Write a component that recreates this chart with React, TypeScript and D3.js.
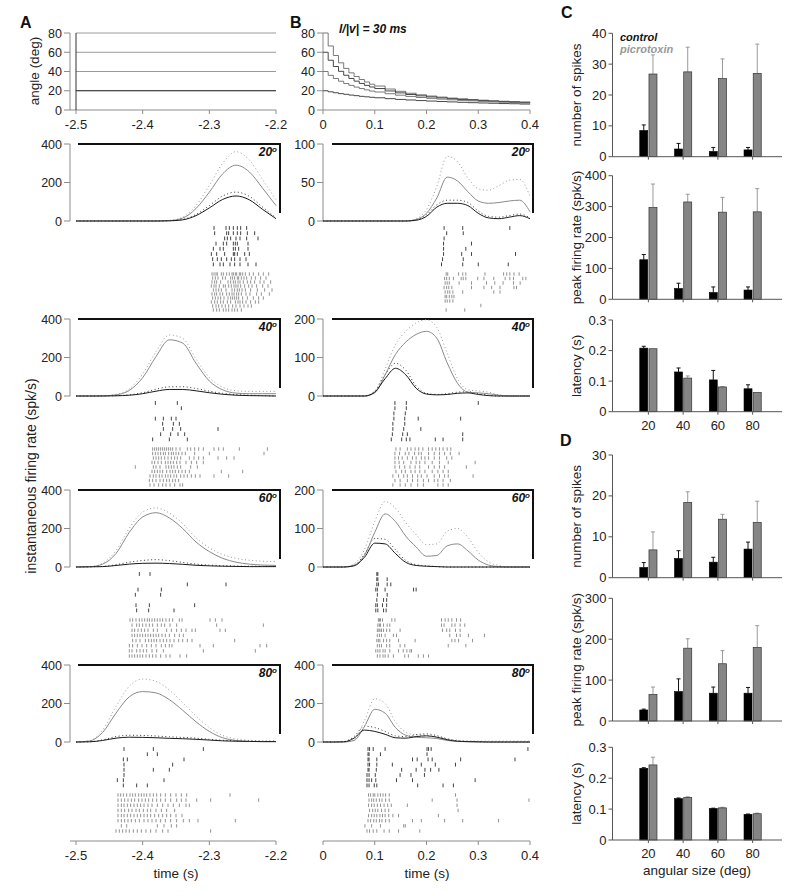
import React from 'react';
import * as d3 from 'd3';

const FONT = "'Liberation Sans', Arial, Helvetica, sans-serif";
const INK = '#222';
const AXIS = '#8c8c8c';
const PIC = '#8a8a8a';
const PIC_TICK = '#6e6e6e';

// ---------- stimulus (top row) ----------
const angleLevels = [20, 40, 60, 80];
const stimTimesB = [0, 0.01, 0.02, 0.03, 0.04, 0.05, 0.06, 0.07, 0.08, 0.09, 0.1, 0.12, 0.14, 0.16, 0.18, 0.2, 0.22, 0.24, 0.26, 0.28, 0.3, 0.32, 0.34, 0.36, 0.38, 0.4];
const stimB80 = [80, 66.5, 56.6, 49.0, 43.2, 38.6, 34.8, 31.7, 29.1, 26.8, 24.9, 21.8, 19.4, 17.4, 15.8, 14.5, 13.4, 12.4, 11.6, 10.9, 10.2, 9.6, 9.1, 8.7, 8.3, 7.9];
const stimB60 = [60, 51.7, 45.2, 40.2, 36.1, 32.8, 30.0, 27.6, 25.6, 23.9, 22.3, 19.8, 17.8, 16.1, 14.7, 13.6, 12.6, 11.7, 11.0, 10.3, 9.7, 9.2, 8.7, 8.3, 7.9, 7.6];
const stimB40 = [40, 36.0, 32.7, 29.9, 27.5, 25.6, 23.8, 22.3, 20.9, 19.7, 18.7, 16.9, 15.4, 14.1, 13.0, 12.1, 11.3, 10.6, 10.0, 9.5, 9.0, 8.5, 8.1, 7.8, 7.4, 7.1];
const stimB20 = [20, 18.9, 17.9, 17.0, 16.3, 15.5, 14.9, 14.2, 13.7, 13.2, 12.7, 11.8, 11.0, 10.4, 9.8, 9.3, 8.8, 8.4, 8.0, 7.6, 7.3, 7.0, 6.7, 6.5, 6.2, 6.0];

// ---------- firing rates ----------
const timesA = [-2.5, -2.48, -2.46, -2.44, -2.42, -2.4, -2.38, -2.36, -2.34, -2.32, -2.3, -2.28, -2.26, -2.24, -2.22, -2.2];
const timesB = [0, 0.02, 0.04, 0.06, 0.08, 0.1, 0.12, 0.14, 0.16, 0.18, 0.2, 0.22, 0.24, 0.26, 0.28, 0.3, 0.32, 0.34, 0.36, 0.38, 0.4];

const rateA20ctrl = [0, 0, 0, 0, 0, 0, 0, 1, 6, 28, 68, 112, 130, 110, 60, 12];
const rateA20ctrlSE = [0, 0, 0, 0, 0, 0, 0, 0, 2, 6, 12, 18, 20, 18, 12, 5];
const rateA20pic = [0, 0, 0, 0, 0, 0, 0, 2, 15, 65, 150, 245, 290, 255, 170, 80];
const rateA20picSE = [0, 0, 0, 0, 0, 0, 0, 1, 5, 15, 35, 55, 70, 62, 45, 30];

const rateA40ctrl = [0, 0, 0, 1, 4, 12, 25, 34, 34, 27, 17, 9, 4, 2, 1, 0];
const rateA40ctrlSE = [0, 0, 0, 1, 2, 5, 10, 14, 14, 12, 8, 5, 3, 2, 1, 0];
const rateA40pic = [0, 0, 1, 6, 29, 95, 205, 292, 275, 170, 78, 32, 15, 12, 12, 12];
const rateA40picSE = [0, 0, 0, 2, 8, 20, 25, 25, 25, 22, 18, 14, 12, 12, 12, 12];

const rateA60ctrl = [0, 1, 2, 8, 15, 19, 20, 18, 14, 9, 6, 4, 3, 2, 2, 2];
const rateA60ctrlSE = [0, 0, 1, 4, 10, 15, 18, 15, 10, 6, 4, 3, 2, 2, 2, 2];
const rateA60pic = [0, 1, 15, 70, 180, 260, 282, 255, 200, 130, 80, 45, 25, 15, 10, 8];
const rateA60picSE = [0, 0, 5, 15, 22, 25, 25, 25, 25, 22, 20, 20, 20, 20, 20, 20];

const rateA80ctrl = [0, 1, 8, 20, 25, 24, 22, 19, 17, 14, 10, 6, 4, 3, 2, 2];
const rateA80ctrlSE = [0, 0, 3, 8, 10, 10, 9, 8, 7, 6, 4, 3, 2, 2, 1, 1];
const rateA80pic = [0, 5, 50, 150, 235, 262, 255, 220, 165, 105, 55, 22, 8, 3, 2, 2];
const rateA80picSE = [0, 2, 12, 35, 55, 65, 60, 50, 40, 30, 20, 12, 8, 6, 5, 5];

const rateB20ctrl = [0, 0, 0, 0, 0, 0, 0, 0, 0, 1, 6, 18, 23, 23, 20, 10, 4, 3, 5, 7, 3];
const rateB20ctrlSE = [0, 0, 0, 0, 0, 0, 0, 0, 0, 0, 2, 3, 4, 4, 4, 3, 2, 2, 2, 2, 1];
const rateB20pic = [0, 0, 0, 0, 0, 0, 0, 0, 0, 2, 10, 30, 57, 52, 38, 26, 23, 24, 26, 27, 12];
const rateB20picSE = [0, 0, 0, 0, 0, 0, 0, 0, 0, 1, 5, 15, 27, 25, 18, 16, 17, 22, 27, 27, 20];

const rateB40ctrl = [0, 0, 0, 0, 0, 10, 45, 72, 55, 20, 5, 3, 4, 7, 8, 4, 1, 0, 0, 0, 0];
const rateB40ctrlSE = [0, 0, 0, 0, 0, 3, 10, 13, 12, 6, 2, 1, 2, 3, 3, 2, 1, 0, 0, 0, 0];
const rateB40pic = [0, 0, 0, 0, 0, 8, 55, 108, 140, 160, 168, 150, 86, 33, 10, 8, 6, 2, 0, 0, 0];
const rateB40picSE = [0, 0, 0, 0, 0, 3, 15, 25, 28, 30, 30, 28, 25, 12, 6, 5, 4, 1, 0, 0, 0];

const rateB60ctrl = [0, 0, 0, 3, 25, 62, 60, 35, 12, 4, 2, 1, 0, 0, 0, 0, 0, 0, 0, 0, 0];
const rateB60ctrlSE = [0, 0, 0, 1, 8, 12, 12, 10, 5, 2, 1, 0, 0, 0, 0, 0, 0, 0, 0, 0, 0];
const rateB60pic = [0, 0, 0, 5, 30, 90, 138, 118, 80, 52, 28, 30, 55, 60, 42, 18, 5, 1, 0, 0, 0];
const rateB60picSE = [0, 0, 0, 3, 15, 28, 32, 35, 35, 32, 30, 30, 38, 40, 35, 20, 8, 3, 0, 0, 0];

const rateB80ctrl = [0, 0, 1, 20, 62, 55, 40, 22, 20, 28, 32, 25, 12, 4, 2, 1, 0, 0, 0, 0, 0];
const rateB80ctrlSE = [0, 0, 1, 8, 20, 20, 15, 10, 8, 10, 10, 8, 5, 2, 1, 1, 0, 0, 0, 0, 0];
const rateB80pic = [0, 0, 0, 8, 80, 170, 150, 75, 35, 25, 22, 18, 8, 3, 1, 0, 0, 0, 0, 0, 0];
const rateB80picSE = [0, 0, 0, 4, 30, 55, 50, 30, 15, 12, 12, 10, 8, 6, 5, 5, 5, 5, 5, 5, 5];

// ---------- rasters (spike times in ms, one string per trial) ----------
const rasterA20ctrl = [
  '-2293 -2275 -2270 -2264 -2258 -2253 -2244',
  '-2292 -2274 -2271 -2264 -2258 -2253 -2243 -2232',
  '-2277 -2273 -2268 -2260 -2254 -2244 -2227',
  '-2290 -2279 -2274 -2264 -2261 -2258 -2242',
  '-2294 -2284 -2279 -2264 -2261 -2256 -2242',
  '-2297 -2289 -2277 -2264 -2262 -2258 -2247 -2240',
  '-2295 -2288 -2282 -2274 -2267 -2262 -2254 -2245',
  '-2294 -2284 -2279 -2269 -2262 -2254 -2242 -2230',
];
const rasterA20pic = [
  '-2296 -2293 -2290 -2288 -2282 -2279 -2274 -2270 -2266 -2264 -2261 -2259 -2255 -2253 -2250 -2246 -2240 -2234 -2226 -2219 -2211',
  '-2295 -2291 -2287 -2280 -2276 -2268 -2265 -2262 -2258 -2256 -2252 -2248 -2244 -2237 -2231 -2223 -2215',
  '-2296 -2292 -2289 -2283 -2272 -2268 -2264 -2261 -2257 -2254 -2249 -2243 -2238 -2232 -2224 -2218 -2208',
  '-2297 -2293 -2290 -2285 -2279 -2276 -2271 -2267 -2263 -2260 -2257 -2253 -2247 -2241 -2236 -2229 -2220 -2212',
  '-2294 -2290 -2286 -2282 -2275 -2266 -2262 -2258 -2255 -2251 -2246 -2238 -2228 -2217 -2206',
  '-2296 -2292 -2289 -2284 -2280 -2274 -2270 -2266 -2263 -2259 -2256 -2252 -2245 -2239 -2229 -2222 -2210',
  '-2295 -2291 -2287 -2283 -2278 -2272 -2268 -2265 -2262 -2259 -2256 -2250 -2243 -2234 -2226 -2219',
  '-2297 -2292 -2288 -2283 -2279 -2273 -2268 -2261 -2257 -2254 -2250 -2245 -2238 -2231 -2226',
  '-2295 -2290 -2286 -2281 -2276 -2271 -2265 -2260 -2254 -2248 -2242 -2237',
  '-2294 -2289 -2285 -2279 -2275 -2271 -2266 -2262 -2258 -2252',
];
const rasterA40ctrl = [
  '-2381 -2348',
  '-2342',
  '',
  '-2381 -2369 -2357 -2350',
  '-2370 -2354 -2345',
  '-2369 -2355 -2343 -2287',
  '-2373 -2358 -2347 -2337',
  '-2385 -2360 -2333',
];
const rasterA40pic = [
  '-2385 -2382 -2379 -2376 -2373 -2370 -2367 -2364 -2361 -2358 -2355 -2350 -2344 -2333 -2328 -2322 -2316 -2309 -2293 -2286 -2279 -2255 -2213',
  '-2385 -2381 -2377 -2373 -2369 -2366 -2361 -2357 -2354 -2350 -2346 -2341 -2336 -2322 -2300 -2218',
  '-2384 -2380 -2376 -2372 -2367 -2362 -2357 -2352 -2348 -2343 -2330 -2323 -2316 -2309 -2287 -2274 -2263',
  '-2386 -2382 -2377 -2372 -2366 -2362 -2358 -2354 -2349 -2344 -2335 -2327 -2319 -2309',
  '-2411 -2384 -2380 -2374 -2365 -2361 -2357 -2353 -2348 -2343 -2328 -2318',
  '-2386 -2382 -2378 -2374 -2370 -2364 -2359 -2355 -2351 -2346 -2341 -2336 -2330 -2282 -2250',
  '-2389 -2384 -2380 -2375 -2371 -2366 -2362 -2358 -2353 -2349 -2343 -2338 -2333 -2327 -2321 -2314 -2293 -2271',
  '-2390 -2385 -2380 -2374 -2369 -2364 -2360 -2355 -2351 -2346',
  '-2389 -2383 -2376 -2370 -2365 -2359 -2352 -2344 -2340',
];
const rasterA60ctrl = [
  '-2405 -2389',
  '',
  '-2333 -2275',
  '-2407 -2372',
  '-2411 -2373',
  '',
  '-2410 -2390 -2322',
  '-2409 -2391 -2353',
];
const rasterA60pic = [
  '-2419 -2415 -2410 -2405 -2401 -2397 -2393 -2390 -2386 -2382 -2378 -2374 -2370 -2365 -2360 -2355 -2345 -2341 -2299 -2291 -2281',
  '-2416 -2409 -2405 -2400 -2395 -2390 -2385 -2378 -2372 -2367 -2359 -2349 -2289 -2219',
  '-2416 -2412 -2407 -2402 -2397 -2392 -2384 -2378 -2364 -2357 -2349 -2342 -2335 -2326 -2321 -2284 -2276',
  '-2416 -2412 -2408 -2404 -2400 -2396 -2392 -2388 -2384 -2380 -2376 -2371 -2366 -2360 -2352 -2345 -2339',
  '-2415 -2410 -2404 -2396 -2391 -2387 -2383 -2379 -2374 -2369 -2364 -2359 -2353 -2346 -2340 -2333 -2326 -2262',
  '-2420 -2415 -2408 -2401 -2394 -2387 -2380 -2372 -2366 -2360 -2356 -2314 -2294 -2224 -2214',
  '-2420 -2416 -2409 -2404 -2399 -2394 -2386 -2379 -2369 -2309 -2231',
  '-2420 -2416 -2412 -2408 -2404 -2400 -2395 -2390 -2385 -2380 -2373 -2365 -2359 -2344 -2334',
];
const rasterA80ctrl = [
  '-2428 -2384 -2309',
  '-2393 -2378',
  '-2429 -2423 -2338',
  '-2428 -2355',
  '-2428 -2384 -2360',
  '-2428',
  '-2438 -2429 -2368',
  '-2429 -2409 -2393',
];
const rasterA80pic = [
  '-2437 -2433 -2429 -2424 -2419 -2415 -2411 -2406 -2402 -2398 -2394 -2389 -2384 -2379 -2373 -2366 -2358 -2350 -2342 -2334 -2269',
  '-2437 -2432 -2427 -2422 -2417 -2412 -2406 -2401 -2396 -2391 -2385 -2379 -2373 -2366 -2358 -2349 -2342 -2335 -2319 -2298 -2226',
  '-2437 -2432 -2428 -2423 -2418 -2413 -2408 -2403 -2398 -2392 -2386 -2378 -2370 -2362 -2354 -2345 -2335 -2330',
  '-2437 -2432 -2427 -2421 -2416 -2410 -2405 -2399 -2393 -2388 -2380 -2372 -2364 -2352',
  '-2437 -2432 -2428 -2423 -2418 -2413 -2408 -2403 -2398 -2393 -2388 -2382 -2376 -2370 -2364 -2358 -2350 -2341',
  '-2437 -2432 -2427 -2422 -2417 -2411 -2405 -2398 -2392 -2386 -2380 -2373 -2366 -2358 -2349 -2339 -2330 -2317 -2261',
  '-2432 -2424 -2378 -2368 -2357 -2349',
  '-2440 -2435 -2430 -2425 -2420 -2414 -2408 -2402 -2395 -2388 -2380 -2370 -2362 -2298',
];
const rasterB20ctrl = [
  '234 270 361',
  '239 271',
  '234',
  '233 287',
  '233 276',
  '233 268 287 372',
  '231 271',
  '229 270 300 358',
];
const rasterB20pic = [
  '238 241 262 270 276 313 349 355 361 369 379',
  '235 239 244 252 267 271 276 299 311 330 352 361 368 386 392',
  '236 240 244 263 287 316 332 348 368 381',
  '234 239 243 249 287 311 326 342 369 374',
  '236 241 245 251 270 330 342',
  '236 239 244 249 253',
  '236 240 245 251',
  '305',
  '238 274',
];
const rasterB40ctrl = [
  '139 161 300',
  '139 161',
  '137 159',
  '137 158 184 266',
  '135 158',
  '135 156 189',
  '134 154 163 270',
  '132 152 161 168 217 232 270',
];
const rasterB40pic = [
  '141 149 163 170 178 185 193 204 211 218 225 232 240 247',
  '139 148 159 166 177 185 190 204 215 225 235 246 263',
  '139 146 153 163 173 180 190 197 204 215 225 239 249',
  '139 147 156 170 180 187 197 211 225 242 294',
  '139 148 158 168 178 187 204 215 225 235 277',
  '141 152 159 170 178 187 197 211 222 232 242',
  '135 146 156 163 173 183 190 201 215 225 235 242 290',
  '139 149 163 173 183 194 204 215 222 232 246',
  '135 149 159 170 183 194 222 232 242',
];
const rasterB60ctrl = [
  '104 106',
  '104 106 124',
  '104 107 124 131',
  '102 105 120 175 180',
  '105 124',
  '104 117 123',
  '102 105 115 123',
  '102 106 117 122',
];
const rasterB60pic = [
  '107 109 111 115 133 139 229 236 242 249 258 266',
  '106 109 111 117 124 129 229 234 249 255 265 274',
  '105 108 110 113 117 123 129 149 231 239 245 256 265',
  '105 109 113 120 136 142 245 258 265 281 312',
  '104 107 110 117 123 129 146 178 249 255 262 289',
  '105 109 113 123 129 149 158 242 276',
  '102 106 110 116 120 129 146 155 162 168 171',
  '105 110 116 120 126 136 158 165 184 194 204',
];
const rasterB80ctrl = [
  '87 90 97 120 201 204 209 396',
  '87 89 111 201',
  '87 89 104 173 182 203 211 266 371',
  '87 90 104 134 190 217 256',
  '87 89 103 152 180 197 208 224',
  '85 89 101 149 170 196',
  '85 89 94 102 142 173 294',
  '85 89 99 104 183 232 252',
];
const rasterB80pic = [
  '88 92 97 100 106 111 116 121 128 256',
  '89 94 98 103 109 114 121 128 211 259 398',
  '88 94 99 105 111 118 125 132 163 259',
  '90 96 101 106 113 120 127 261',
  '88 94 99 104 110 115 120 127 135 146 223',
  '87 92 98 103 109 114 121 128 173 190 235 270 339',
  '81 94 111 156 159',
  '85 90 97 104 118 128 146 187',
];

// ---------- summary bars (C, D) ----------
const sizes = ['20', '40', '60', '80'];
const cSpikesCtrl = [8.5, 2.5, 1.7, 2.2];
const cSpikesCtrlSE = [1.8, 1.8, 1.3, 0.8];
const cSpikesPic = [26.8, 27.5, 25.3, 27.0];
const cSpikesPicSE = [6.2, 8.0, 6.4, 9.5];
const cRateCtrl = [128, 35, 22, 30];
const cRateCtrlSE = [17, 17, 18, 10];
const cRatePic = [297, 315, 282, 283];
const cRatePicSE = [76, 25, 48, 75];
const cLatCtrl = [0.208, 0.13, 0.104, 0.075];
const cLatCtrlSE = [0.006, 0.013, 0.031, 0.013];
const cLatPic = [0.206, 0.11, 0.081, 0.063];
const cLatPicSE = [0, 0.007, 0.001, 0];
const dSpikesCtrl = [2.5, 4.7, 3.8, 7.0];
const dSpikesCtrlSE = [1.2, 1.9, 1.2, 1.7];
const dSpikesPic = [6.8, 18.4, 14.3, 13.5];
const dSpikesPicSE = [4.4, 2.6, 1.2, 5.2];
const dRateCtrl = [27, 72, 68, 68];
const dRateCtrlSE = [2, 31, 15, 14];
const dRatePic = [65, 178, 140, 180];
const dRatePicSE = [18, 23, 32, 53];
const dLatCtrl = [0.232, 0.134, 0.102, 0.083];
const dLatCtrlSE = [0.002, 0.002, 0.001, 0.001];
const dLatPic = [0.243, 0.138, 0.104, 0.085];
const dLatPicSE = [0.025, 0.002, 0.002, 0.002];

const xA = d3.scaleLinear().domain([-2.5, -2.2]).range([76, 276]);
const xB = d3.scaleLinear().domain([0, 0.4]).range([323, 530]);
const zeroYs = [221, 396, 567, 742];
const PH = 77;

const parseRow = (s: string) => s.split(' ').filter(Boolean).map(v => +v / 1000);

function YAxis({ x, y, ticks, fmt, color = AXIS, len = 6, size = 12.5 }: any) {
  const [r0, r1] = y.range();
  return (
    <g>
      <line x1={x} x2={x} y1={r0} y2={r1} stroke={color} />
      {ticks.map((t: number) => (
        <g key={t}>
          <line x1={x - len} x2={x} y1={y(t)} y2={y(t)} stroke={color} />
          <text x={x - len - 2} y={y(t) + 4.5} textAnchor="end" fontSize={size} fill={INK}>{fmt ? fmt(t) : t}</text>
        </g>
      ))}
    </g>
  );
}

function XAxis({ x, y, ticks, x0, fmt }: any) {
  const r = x.range();
  return (
    <g>
      <line x1={x0} x2={r[1]} y1={y} y2={y} stroke={AXIS} />
      {ticks.map((t: number) => (
        <g key={t}>
          <line x1={x(t)} x2={x(t)} y1={y} y2={y + 4} stroke={AXIS} />
          <text x={x(t)} y={y + 19} textAnchor="middle" fontSize={13} fill={INK}>{fmt(t)}</text>
        </g>
      ))}
    </g>
  );
}

function RatePanel({ xs, axisX, frame, times, zeroY, yMax, yTicks, ctrl, ctrlSE, pic, picSE, rasterC, rasterP, deg }: any) {
  const y = d3.scaleLinear().domain([0, yMax]).range([zeroY, zeroY - PH]);
  const mk = (vals: number[]) =>
    d3.line<number>().x((_, i) => xs(times[i])).y(v => y(v)).curve(d3.curveMonotoneX)(vals) || '';
  const hi = (m: number[], s: number[]) => m.map((v, i) => v + s[i]);
  const cStart = zeroY + 7;
  const pStart = zeroY + 53;
  const pStep = 36 / (rasterP.length - 1);
  const top = zeroY - PH;
  return (
    <g>
      <YAxis x={axisX} y={y} ticks={yTicks} />
      <path d={`M${frame[0]},${top}H${frame[1]}V${zeroY - 8}`} fill="none" stroke="#111" strokeWidth={2} />
      <text x={frame[1] - 3} y={top + 12} textAnchor="end" fontSize={12} fontWeight="bold" fontStyle="italic" fill="#111">
        {deg}<tspan fontSize={8} dy={-4}>o</tspan>
      </text>
      {/* mean + SE, dotted */}
      <path d={mk(hi(pic, picSE))} fill="none" stroke="#9a9a9a" strokeWidth={1} strokeDasharray="1 2.6" />
      <path d={mk(hi(ctrl, ctrlSE))} fill="none" stroke="#333" strokeWidth={1} strokeDasharray="1 2.6" />
      <path d={mk(pic)} fill="none" stroke={PIC} strokeWidth={1} />
      <path d={mk(ctrl)} fill="none" stroke="#1a1a1a" strokeWidth={1} />
      {rasterC.map((row: string, i: number) =>
        parseRow(row).map((t, j) => (
          <line key={`c${i}-${j}`} x1={xs(t)} x2={xs(t)} y1={cStart + i * 5.2 - 1.9} y2={cStart + i * 5.2 + 1.9} stroke="#111" strokeWidth={0.8} />
        ))
      )}
      {rasterP.map((row: string, i: number) =>
        parseRow(row).map((t, j) => (
          <line key={`p${i}-${j}`} x1={xs(t)} x2={xs(t)} y1={pStart + i * pStep - 1.7} y2={pStart + i * pStep + 1.7} stroke={PIC_TICK} strokeWidth={0.75} />
        ))
      )}
    </g>
  );
}

function BarPanel({ top, bottom, yMax, ticks, fmt, ctrl, ctrlSE, pic, picSE, ylabel, cats }: any) {
  const y = d3.scaleLinear().domain([0, yMax]).range([bottom, top]);
  const x = d3.scaleBand().domain(sizes).range([631, 770]);
  const c = (s: string) => (x(s) as number) + x.bandwidth() / 2;
  const bw = 8;
  const err = (cx: number, v: number, se: number, col: string) =>
    se > 0 ? (
      <g>
        <line x1={cx} x2={cx} y1={y(v)} y2={y(v + se)} stroke={col} />
        <line x1={cx - 2} x2={cx + 2} y1={y(v + se)} y2={y(v + se)} stroke={col} />
      </g>
    ) : null;
  return (
    <g>
      <text transform={`translate(581,${(top + bottom) / 2}) rotate(-90)`} textAnchor="middle" fontSize={13.5} fill={INK}>{ylabel}</text>
      {sizes.map((s, i) => (
        <g key={s}>
          {err(c(s) - 0.6 - bw / 2, ctrl[i], ctrlSE[i], '#111')}
          {err(c(s) + 0.6 + bw / 2, pic[i], picSE[i], '#999')}
          <rect x={c(s) - 0.6 - bw} y={y(ctrl[i])} width={bw} height={bottom - y(ctrl[i])} fill="#000" stroke="#000" strokeWidth={0.6} />
          <rect x={c(s) + 0.6} y={y(pic[i])} width={bw} height={bottom - y(pic[i])} fill="#858585" stroke="#333" strokeWidth={0.7} />
          <line x1={c(s)} x2={c(s)} y1={bottom} y2={bottom + 3} stroke="#555" />
          {cats && <text x={c(s)} y={bottom + 18} textAnchor="middle" fontSize={13} fill={INK}>{s}</text>}
        </g>
      ))}
      <line x1={612.5} x2={782} y1={bottom} y2={bottom} stroke="#555" />
      <YAxis x={612.5} y={y} ticks={ticks} fmt={fmt} color="#555" len={4} size={13} />
    </g>
  );
}

export default function App() {
  const yStim = d3.scaleLinear().domain([0, 80]).range([110, 33]);
  const stimLine = d3.line<number>().x((_, i) => xB(stimTimesB[i])).y(v => yStim(v)).curve(d3.curveStepAfter);
  const fmtA = (t: number) => d3.format('.1f')(t).replace('−', '-');
  const fmtB = (t: number) => (t === 0 ? '0' : d3.format('.1f')(t));
  const fmtLat = (t: number) => (t === 0 ? '0' : d3.format('.1f')(t));

  const panelsA = [
    [rateA20ctrl, rateA20ctrlSE, rateA20pic, rateA20picSE, rasterA20ctrl, rasterA20pic],
    [rateA40ctrl, rateA40ctrlSE, rateA40pic, rateA40picSE, rasterA40ctrl, rasterA40pic],
    [rateA60ctrl, rateA60ctrlSE, rateA60pic, rateA60picSE, rasterA60ctrl, rasterA60pic],
    [rateA80ctrl, rateA80ctrlSE, rateA80pic, rateA80picSE, rasterA80ctrl, rasterA80pic],
  ];
  const panelsB = [
    [rateB20ctrl, rateB20ctrlSE, rateB20pic, rateB20picSE, rasterB20ctrl, rasterB20pic],
    [rateB40ctrl, rateB40ctrlSE, rateB40pic, rateB40picSE, rasterB40ctrl, rasterB40pic],
    [rateB60ctrl, rateB60ctrlSE, rateB60pic, rateB60picSE, rasterB60ctrl, rasterB60pic],
    [rateB80ctrl, rateB80ctrlSE, rateB80pic, rateB80picSE, rasterB80ctrl, rasterB80pic],
  ];
  const bMax = [100, 200, 200, 400];
  const bTicks = [[0, 50, 100], [0, 100, 200], [0, 100, 200], [0, 200, 400]];

  return (
    <svg width={800} height={892} style={{ position: 'absolute', left: 0, top: 0, background: '#fff' }} fontFamily={FONT}>
      <rect width={800} height={892} fill="#fff" />
      {/* panel letters */}
      <text x={20} y={28} fontSize={16} fontWeight="bold" fill="#111">A</text>
      <text x={290} y={28} fontSize={16} fontWeight="bold" fill="#111">B</text>
      <text x={561} y={18} fontSize={16} fontWeight="bold" fill="#111">C</text>
      <text x={560} y={446} fontSize={16} fontWeight="bold" fill="#111">D</text>

      {/* A stimulus */}
      <text transform="translate(39,71) rotate(-90)" textAnchor="middle" fontSize={13.5} fill={INK}>angle (deg)</text>
      <YAxis x={70} y={yStim} ticks={[0, 20, 40, 60, 80]} />
      <XAxis x={xA} y={110} x0={70} ticks={[-2.5, -2.4, -2.3, -2.2]} fmt={fmtA} />
      {angleLevels.map(a => (
        <line key={a} x1={xA(-2.5)} x2={xA(-2.2)} y1={yStim(a)} y2={yStim(a)} stroke={a === 20 ? '#111' : '#9a9a9a'} strokeWidth={1} />
      ))}
      <line x1={xA(-2.5)} x2={xA(-2.5)} y1={yStim(0)} y2={yStim(80)} stroke="#333" />

      {/* B stimulus */}
      <YAxis x={323} y={yStim} ticks={[0, 20, 40, 60, 80]} />
      <XAxis x={xB} y={110} x0={323} ticks={[0, 0.1, 0.2, 0.3, 0.4]} fmt={fmtB} />
      {[stimB80, stimB60, stimB40, stimB20].map((s, i) => (
        <path key={i} d={stimLine(s) || ''} fill="none" stroke={i % 2 === 0 ? '#6a6a6a' : '#333'} strokeWidth={0.9} />
      ))}
      <text x={339} y={33} fontSize={12} fontWeight="bold" fontStyle="italic" fill="#111">l/|v| = 30 ms</text>

      {/* firing rate panels */}
      <text transform="translate(36,476) rotate(-90)" textAnchor="middle" fontSize={14} fill={INK}>instantaneous firing rate (spk/s)</text>
      {panelsA.map((p, i) => (
        <RatePanel key={`A${i}`} xs={xA} axisX={70} frame={[78, 280]} times={timesA} zeroY={zeroYs[i]} yMax={400} yTicks={[0, 200, 400]}
          ctrl={p[0]} ctrlSE={p[1]} pic={p[2]} picSE={p[3]} rasterC={p[4]} rasterP={p[5]} deg={angleLevels[i]} />
      ))}
      {panelsB.map((p, i) => (
        <RatePanel key={`B${i}`} xs={xB} axisX={323} frame={[332, 533]} times={timesB} zeroY={zeroYs[i]} yMax={bMax[i]} yTicks={bTicks[i]}
          ctrl={p[0]} ctrlSE={p[1]} pic={p[2]} picSE={p[3]} rasterC={p[4]} rasterP={p[5]} deg={angleLevels[i]} />
      ))}
      <XAxis x={xA} y={841} x0={70} ticks={[-2.5, -2.4, -2.3, -2.2]} fmt={fmtA} />
      <XAxis x={xB} y={841} x0={323} ticks={[0, 0.1, 0.2, 0.3, 0.4]} fmt={fmtB} />
      <text x={176} y={878} textAnchor="middle" fontSize={13.5} fill={INK}>time (s)</text>
      <text x={427} y={878} textAnchor="middle" fontSize={13.5} fill={INK}>time (s)</text>

      {/* C */}
      <BarPanel top={33.3} bottom={156.7} yMax={40} ticks={[0, 10, 20, 30, 40]} ctrl={cSpikesCtrl} ctrlSE={cSpikesCtrlSE} pic={cSpikesPic} picSE={cSpikesPicSE} ylabel="number of spikes" />
      <text x={620} y={41} fontSize={11} fontWeight="bold" fontStyle="italic" fill="#111">control</text>
      <text x={620} y={53} fontSize={11} fontWeight="bold" fontStyle="italic" fill="#999">picrotoxin</text>
      <BarPanel top={175.7} bottom={299.3} yMax={400} ticks={[0, 100, 200, 300, 400]} ctrl={cRateCtrl} ctrlSE={cRateCtrlSE} pic={cRatePic} picSE={cRatePicSE} ylabel="peak firing rate (spk/s)" />
      <BarPanel top={320} bottom={411.7} yMax={0.3} ticks={[0, 0.1, 0.2, 0.3]} fmt={fmtLat} ctrl={cLatCtrl} ctrlSE={cLatCtrlSE} pic={cLatPic} picSE={cLatPicSE} ylabel="latency (s)" cats />

      {/* D */}
      <BarPanel top={455} bottom={577.7} yMax={30} ticks={[0, 10, 20, 30]} ctrl={dSpikesCtrl} ctrlSE={dSpikesCtrlSE} pic={dSpikesPic} picSE={dSpikesPicSE} ylabel="number of spikes" />
      <BarPanel top={598.3} bottom={721} yMax={300} ticks={[0, 100, 200, 300]} ctrl={dRateCtrl} ctrlSE={dRateCtrlSE} pic={dRatePic} picSE={dRatePicSE} ylabel="peak firing rate (spk/s)" />
      <BarPanel top={747.3} bottom={840} yMax={0.3} ticks={[0, 0.1, 0.2, 0.3]} fmt={fmtLat} ctrl={dLatCtrl} ctrlSE={dLatCtrlSE} pic={dLatPic} picSE={dLatPicSE} ylabel="latency (s)" cats />
      <text x={697} y={875} textAnchor="middle" fontSize={13.5} fill={INK}>angular size (deg)</text>
    </svg>
  );
}
